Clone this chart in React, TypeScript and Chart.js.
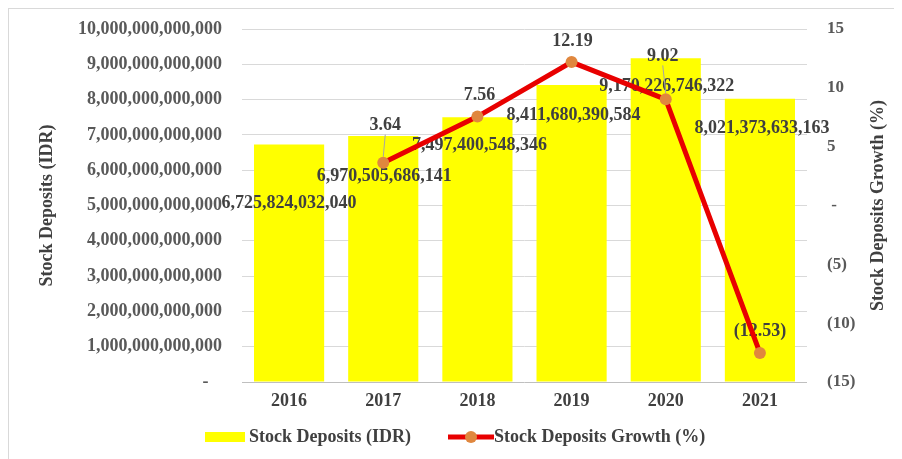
import React, { useEffect, useRef } from "react";
import { Chart, registerables } from "chart.js";

Chart.register(...registerables);

const categories = ["2016", "2017", "2018", "2019", "2020", "2021"];
const stockDeposits = [
  6725824032040, 6970505686141, 7497400548346, 8411680390584, 9170226746322, 8021373633163,
];
const depositGrowth: (number | null)[] = [null, 3.64, 7.56, 12.19, 9.02, -12.53];
const seriesLabels = ["Stock Deposits (IDR)", "Stock Deposits Growth (%)"];
const leftAxisTitle = "Stock Deposits (IDR)";
const rightAxisTitle = "Stock Deposits Growth (%)";

// label offsets (pixels) relative to the mark, mimicking the manual placement
const barLabelOffsets: [number, number][] = [[0, 59], [1, 40], [2, 28], [2, 30], [1, 28], [2, 29]];
const lineLabelOffsets: ([number, number] | null)[] = [null, [2, -37], [2, -21], [1, -21], [-3, -43], [0, -22]];

const FONT = "'Liberation Serif', 'Times New Roman', serif";
const BAR_COLOR = "#FFFF00";
const LINE_COLOR = "#E80000";
const POINT_COLOR = "#E0873E";
const TEXT = "#404040";

const fmtIDR = (v: number) => (v === 0 ? "-   " : Math.round(v).toLocaleString("en-US"));
const fmtPctTick = (v: number) => (v === 0 ? " -" : v < 0 ? `(${Math.abs(v)})` : `${v}`);
const fmtPctLabel = (v: number) => (v < 0 ? `(${Math.abs(v).toFixed(2)})` : v.toFixed(2));

const labelPlugin = {
  id: "valueLabels",
  // labels sit above the bars but under the growth line, as in the reference
  beforeDatasetDraw(chart: any, args: any) {
    if (args.index !== 1) return;
    const ctx = chart.ctx;
    const barMeta = chart.getDatasetMeta(0);
    const lineMeta = chart.getDatasetMeta(1);
    ctx.save();
    ctx.font = `bold 18px ${FONT}`;
    ctx.fillStyle = TEXT;
    ctx.textAlign = "center";
    ctx.textBaseline = "middle";
    barMeta.data.forEach((el: any, i: number) => {
      const [dx, dy] = barLabelOffsets[i];
      ctx.fillText(fmtIDR(stockDeposits[i]), el.x + dx, el.y + dy);
    });
    lineMeta.data.forEach((el: any, i: number) => {
      const v = depositGrowth[i];
      const off = lineLabelOffsets[i];
      if (v === null || !off) return;
      const [dx, dy] = off;
      const lx = el.x + dx;
      const ly = el.y + dy;
      if (Math.abs(dy) > 30) {
        ctx.strokeStyle = "#a6a6a6";
        ctx.lineWidth = 1;
        ctx.beginPath();
        ctx.moveTo(lx, ly + 9);
        ctx.lineTo(el.x, el.y - 6);
        ctx.stroke();
      }
      ctx.fillStyle = TEXT;
      ctx.fillText(fmtPctLabel(v), lx, ly);
    });
    ctx.restore();
  },
  afterDraw(chart: any) {
    const ctx = chart.ctx;
    const y1 = chart.scales.y1;
    const area = chart.chartArea;
    ctx.save();
    // right axis title (reads bottom to top)
    ctx.font = `bold 18px ${FONT}`;
    ctx.fillStyle = TEXT;
    ctx.textAlign = "center";
    ctx.textBaseline = "middle";
    ctx.translate(y1.right - 24, (area.top + area.bottom) / 2);
    ctx.rotate(-Math.PI / 2);
    ctx.fillText(rightAxisTitle, 0, 0);
    ctx.restore();

    // legend
    ctx.save();
    ctx.font = `bold 18px ${FONT}`;
    ctx.fillStyle = TEXT;
    ctx.textBaseline = "middle";
    ctx.textAlign = "left";
    const ly = chart.height - 22;
    let x = 196;
    ctx.fillStyle = BAR_COLOR;
    ctx.fillRect(x, ly - 5, 40, 10);
    x += 44;
    ctx.fillStyle = TEXT;
    ctx.fillText(seriesLabels[0], x, ly);
    x += ctx.measureText(seriesLabels[0]).width + 37;
    ctx.strokeStyle = LINE_COLOR;
    ctx.lineWidth = 5;
    ctx.beginPath();
    ctx.moveTo(x, ly);
    ctx.lineTo(x + 46, ly);
    ctx.stroke();
    ctx.fillStyle = POINT_COLOR;
    ctx.beginPath();
    ctx.arc(x + 23, ly, 6, 0, Math.PI * 2);
    ctx.fill();
    x += 46;
    ctx.fillStyle = TEXT;
    ctx.fillText(seriesLabels[1], x, ly);
    ctx.restore();
  },
};

export default function App() {
  const ref = useRef<HTMLCanvasElement | null>(null);
  useEffect(() => {
    document.documentElement.style.overflow = "hidden";
    if (!ref.current) return;
    const chart = new Chart(ref.current, {
      type: "bar",
      data: {
        labels: categories,
        datasets: [
          {
            type: "bar",
            label: seriesLabels[0],
            data: stockDeposits,
            backgroundColor: BAR_COLOR,
            borderWidth: 0,
            barPercentage: 0.745,
            categoryPercentage: 1,
            yAxisID: "y",
            order: 2,
          },
          {
            type: "line",
            label: seriesLabels[1],
            data: depositGrowth,
            borderColor: LINE_COLOR,
            borderWidth: 5,
            backgroundColor: POINT_COLOR,
            pointBackgroundColor: POINT_COLOR,
            pointBorderColor: POINT_COLOR,
            pointRadius: 6,
            pointBorderWidth: 0,
            tension: 0,
            yAxisID: "y1",
            order: 1,
          } as any,
        ],
      },
      options: {
        animation: false,
        responsive: true,
        maintainAspectRatio: false,
        layout: { padding: { top: 20, left: 0, right: 0, bottom: 42 } },
        plugins: { legend: { display: false }, tooltip: { enabled: false } },
        scales: {
          x: {
            grid: { display: false },
            border: { display: false },
            ticks: { font: { family: FONT, size: 18, weight: "bold" }, color: TEXT, padding: 1 },
            afterFit: (s: any) => {
              s.height = 35;
            },
          },
          y: {
            position: "left",
            min: 0,
            max: 10000000000000,
            border: { display: false },
            grid: {
              drawTicks: false,
              color: (c: any) => (c.tick && c.tick.value === 0 ? "#bfbfbf" : "#d9d9d9"),
            },
            ticks: {
              stepSize: 1000000000000,
              padding: 20,
              color: "#595959",
              font: { family: FONT, size: 18, weight: "bold" },
              callback: (v: any) => fmtIDR(Number(v)),
            },
            title: {
              display: true,
              text: leftAxisTitle,
              color: TEXT,
              font: { family: FONT, size: 18, weight: "bold" },
              padding: { top: 28, bottom: 0 },
            },
            afterFit: (s: any) => {
              s.width = 233;
              s.paddingTop = 0;
              s.paddingBottom = 0;
            },
          },
          y1: {
            position: "right",
            min: -15,
            max: 15,
            border: { display: false },
            grid: { display: false, drawTicks: false },
            ticks: {
              stepSize: 5,
              padding: 20,
              color: "#595959",
              font: { family: FONT, size: 17, weight: "bold" },
              callback: (v: any) => fmtPctTick(Number(v)),
            },
            afterFit: (s: any) => {
              s.width = 95;
              s.paddingTop = 0;
              s.paddingBottom = 0;
            },
          },
        },
      },
      plugins: [labelPlugin],
    });
    return () => chart.destroy();
  }, []);

  return (
    <div
      style={{
        width: 894,
        height: 451,
        boxSizing: "border-box",
        borderTop: "1px solid #d9d9d9",
        borderLeft: "1px solid #d9d9d9",
        position: "relative",
        background: "#fff",
      }}
    >
      <canvas ref={ref} style={{ display: "block" }} />
    </div>
  );
}
